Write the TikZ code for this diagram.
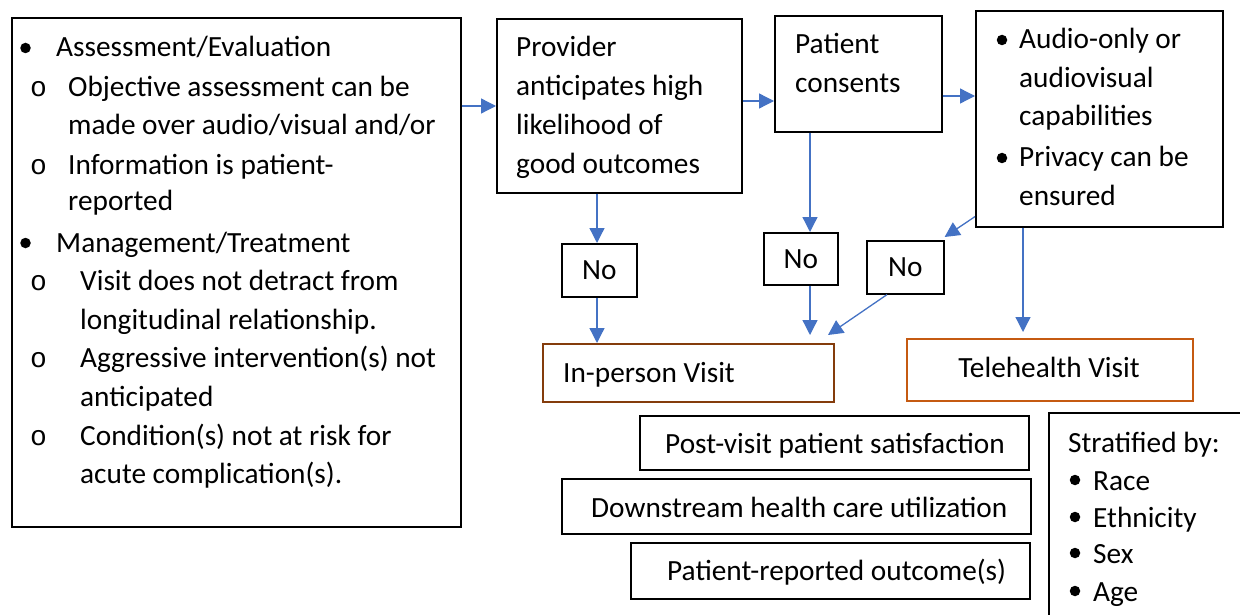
\documentclass[tikz,border=0pt]{standalone}
\usepackage{fontspec}
\setmainfont{Carlito}
\newfontfamily\monof{Liberation Mono}
\usetikzlibrary{arrows.meta}
\definecolor{arrblue}{HTML}{4472C4}
\definecolor{brownb}{HTML}{843C0C}
\definecolor{orangeb}{HTML}{C55A11}
\tikzset{
  box/.style={draw=black,line width=1.6pt,anchor=north west,inner sep=0pt,font=\fontsize{29.3}{34}\selectfont},
  arr/.style={draw=arrblue,line width=1.3pt,-{Triangle[length=15pt,width=15pt]}},
  txt/.style={anchor=base west,inner sep=0pt,font=\fontsize{29.3}{34}\selectfont},
  ob/.style={anchor=base west,inner sep=0pt,font=\fontsize{28}{34}\monof},
  dot/.style={circle,fill=black,inner sep=0pt,minimum size=10.5pt},
}
\begin{document}
\begin{tikzpicture}[x=1pt,y=-1pt]
\useasboundingbox (0,0) rectangle (1240,615);
\clip (0,0) rectangle (1240,615);
% boxes
\node[box,minimum width=449pt,minimum height=509pt] (left) at (11,17) {};
\node[box,minimum width=245pt,minimum height=174pt] (prov) at (496,18) {};
\node[box,minimum width=167pt,minimum height=116pt] (pat) at (774,15) {};
\node[box,minimum width=247pt,minimum height=216pt] (aud) at (975,10) {};
\node[box,minimum width=75pt,minimum height=53pt] (no1) at (561,243) {No};
\node[box,minimum width=74pt,minimum height=52pt] (no2) at (763,232) {No};
\node[box,minimum width=77pt,minimum height=53pt] (no3) at (866,240) {No};
\node[box,draw=brownb,minimum width=291pt,minimum height=58pt] (inp) at (542,343) {};
\node[box,draw=orangeb,minimum width=286pt,minimum height=62pt] (tele) at (906,338) {};
\node[box,minimum width=389pt,minimum height=54pt] (post) at (639,415) {};
\node[box,minimum width=469pt,minimum height=55pt] (down) at (561,478) {};
\node[box,minimum width=399pt,minimum height=56pt] (pro) at (630,542) {};
\node[box,minimum width=220pt,minimum height=240pt] (strat) at (1048,412) {};
% left box text
\node[dot] (lb1) at (25.5,48) {};
\node[txt] (lt1) at (56,57) {Assessment/Evaluation};
\node[ob] (lo1) at (30,97) {o};
\node[txt] (lt2) at (68,97) {Objective assessment can be};
\node[txt] (lt3) at (68,135) {made over audio/visual and/or};
\node[ob] (lo2) at (30,175) {o};
\node[txt] (lt4) at (68,175) {Information is patient-};
\node[txt] (lt5) at (68,211) {reported};
\node[dot] (lb2) at (25.5,243) {};
\node[txt] (lt6) at (56,252) {Management/Treatment};
\node[ob] (lo3) at (30,290) {o};
\node[txt] (lt7) at (80,290) {Visit does not detract from};
\node[txt] (lt8) at (80,329) {longitudinal relationship.};
\node[ob] (lo4) at (30,367) {o};
\node[txt] (lt9) at (80,367) {Aggressive intervention(s) not};
\node[txt] (lt10) at (80,406) {anticipated};
\node[ob] (lo5) at (30,445) {o};
\node[txt] (lt11) at (80,445) {Condition(s) not at risk for};
\node[txt] (lt12) at (80,483) {acute complication(s).};
% provider
\node[txt] (pt1) at (516,57) {Provider};
\node[txt] (pt2) at (516,96) {anticipates high};
\node[txt] (pt3) at (516,135) {likelihood of};
\node[txt] (pt4) at (516,174) {good outcomes};
% patient
\node[txt] (ct1) at (795,54) {Patient};
\node[txt] (ct2) at (795,93) {consents};
% audio
\node[dot] (ab1) at (1002,40) {};
\node[txt] (at1) at (1019,49) {Audio-only or};
\node[txt] (at2) at (1019,88) {audiovisual};
\node[txt] (at3) at (1019,126) {capabilities};
\node[dot] (ab2) at (1002,158) {};
\node[txt] (at4) at (1019,167) {Privacy can be};
\node[txt] (at5) at (1019,205) {ensured};
% outcome boxes
\node[txt] (it) at (563,382) {In-person Visit};
\node[txt,anchor=base] (tt) at (1049,377) {Telehealth Visit};
\node[txt] (ps) at (665,453) {Post-visit patient satisfaction};
\node[txt] (ds) at (591,517) {Downstream health care utilization};
\node[txt] (pr) at (667,580) {Patient-reported outcome(s)};
\node[txt] (st) at (1068,452) {Stratified by:};
\node[dot] (sb1) at (1075,480) {};
\node[txt] (s1) at (1093,490) {Race};
\node[dot] (sb2) at (1075,517) {};
\node[txt] (s2) at (1093,527) {Ethnicity};
\node[dot] (sb3) at (1075,553) {};
\node[txt] (s3) at (1093,563) {Sex};
\node[dot] (sb4) at (1075,591) {};
\node[txt] (s4) at (1093,601) {Age};
% arrows
\draw[arr] (left.east |- 0,106) -- (prov.west |- 0,106);
\draw[arr] (prov.east |- 0,101) -- (pat.west |- 0,101);
\draw[arr] (pat.east |- 0,96) -- (aud.west |- 0,96);
\draw[arr] (prov.south -| 597,0) -- (no1.north -| 597,0);
\draw[arr] (no1.south -| 597,0) -- (inp.north -| 597,0);
\draw[arr] (pat.south -| 810,0) -- (no2.north -| 810,0);
\draw[arr] (no2.south -| 810,0) -- ([yshift=8pt]inp.north -| 810,0);
\draw[arr] ([yshift=11pt]aud.south west) -- ([yshift=3pt]no3.north east);
\draw[arr] (no3.south -| 887,0) -- (828,335);
\draw[arr] (aud.south -| 1023,0) -- ([yshift=6pt]tele.north -| 1023,0);
\end{tikzpicture}
\end{document}
